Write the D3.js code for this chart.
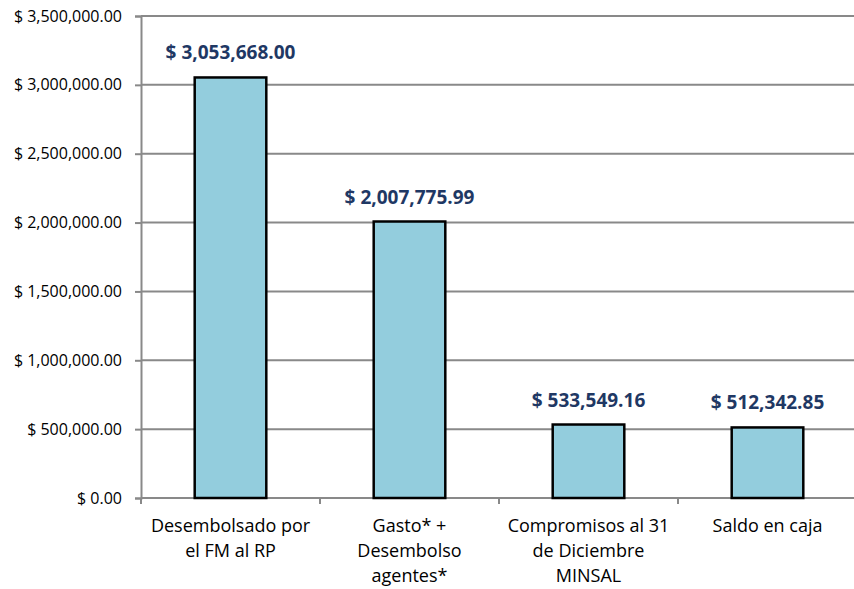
<!DOCTYPE html>
<html>
<head>
<meta charset="utf-8">
<script src="https://cdn.jsdelivr.net/npm/d3@7"></script>
<style>
body { margin: 0; background: #fff; }
svg { display: block; font-family: "Open Sans", sans-serif; }
</style>
</head>
<body>
<div id="chart-area"></div>
<script>
// data
var categories = [
    ["Desembolsado por", "el FM al RP"],
    ["Gasto* +", "Desembolso", "agentes*"],
    ["Compromisos al 31", "de Diciembre", "MINSAL"],
    ["Saldo en caja"]
];
var values = [3053668.00, 2007775.99, 533549.16, 512342.85];
var yTicks = [0, 500000, 1000000, 1500000, 2000000, 2500000, 3000000, 3500000];

var margin = { left: 141, right: -3, top: 16, bottom: 91 };
var width = 854 - margin.left - margin.right;
var height = 589 - margin.top - margin.bottom;

var svg = d3.select("#chart-area").append("svg")
    .attr("width", 854)
    .attr("height", 589);
var g = svg.append("g")
    .attr("transform", "translate(" + margin.left + ", " + margin.top + ")");

var x = d3.scaleBand()
    .domain(d3.range(categories.length))
    .range([0, width])
    .paddingInner(0.6)
    .paddingOuter(0.3);
var y = d3.scaleLinear()
    .domain([0, 3500000])
    .range([height, 0]);

var fmt = d3.format(",.2f");
var money = (v) => "$ " + fmt(v);

// gridlines
g.selectAll(".grid").data(yTicks).enter().append("line")
    .attr("class", "grid")
    .attr("x1", 0)
    .attr("x2", width)
    .attr("y1", (d) => y(d))
    .attr("y2", (d) => y(d))
    .attr("stroke", "#898989")
    .attr("stroke-width", 2);

// y axis
var yAxis = d3.axisLeft(y).tickValues(yTicks).tickSize(6).tickPadding(13).tickFormat(money);
var yaxg = g.append("g").attr("class", "y-axis").call(yAxis);
yaxg.select(".domain").attr("stroke", "#898989").attr("stroke-width", 2);
yaxg.selectAll(".tick line").attr("stroke", "#898989").attr("stroke-width", 2);
yaxg.selectAll(".tick text").attr("font-size", "16px").attr("fill", "#000")
    .attr("font-family", "'Open Sans', sans-serif");

// x axis line with boundary ticks
g.append("line")
    .attr("x1", 0).attr("x2", width)
    .attr("y1", height).attr("y2", height)
    .attr("stroke", "#898989").attr("stroke-width", 2);
g.selectAll(".xtick").data(d3.range(categories.length + 1)).enter().append("line")
    .attr("class", "xtick")
    .attr("x1", (i) => i * width / categories.length)
    .attr("x2", (i) => i * width / categories.length)
    .attr("y1", height)
    .attr("y2", height + 6)
    .attr("stroke", "#898989").attr("stroke-width", 2);

// bars
g.selectAll("rect").data(values).enter().append("rect")
    .attr("x", (d, i) => x(i))
    .attr("y", (d) => y(d))
    .attr("width", x.bandwidth())
    .attr("height", (d) => height - y(d))
    .attr("fill", "#93CDDD")
    .attr("stroke", "#000")
    .attr("stroke-width", 2.5);

// value labels
g.selectAll(".val").data(values).enter().append("text")
    .attr("class", "val")
    .attr("x", (d, i) => x(i) + x.bandwidth() / 2)
    .attr("y", (d) => y(d) - 18)
    .attr("text-anchor", "middle")
    .attr("font-size", "19px")
    .attr("font-weight", "bold")
    .attr("fill", "#1F3864")
    .text((d) => money(d));

// category labels
var cl = g.selectAll(".cat").data(categories).enter().append("text")
    .attr("class", "cat")
    .attr("text-anchor", "middle")
    .attr("font-size", "18px")
    .attr("fill", "#000")
    .attr("transform", (d, i) => "translate(" + (x(i) + x.bandwidth() / 2) + "," + (height + 34) + ")");
cl.selectAll("tspan").data((d) => d).enter().append("tspan")
    .attr("x", 0)
    .attr("y", (d, j) => j * 25)
    .text((d) => d);
</script>
</body>
</html>
